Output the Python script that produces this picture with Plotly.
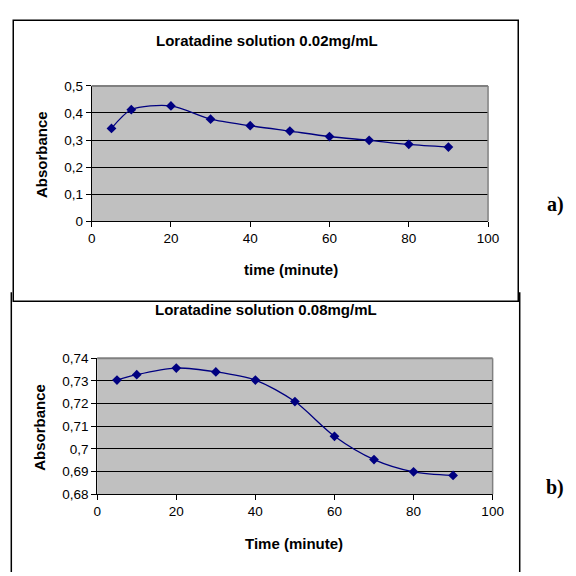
import plotly.graph_objects as go

# ---- data ----
time_a = [5, 10, 20, 30, 40, 50, 60, 70, 80, 90]
abs_a = [0.343, 0.412, 0.426, 0.377, 0.353, 0.333, 0.313, 0.299, 0.284, 0.274]

time_b = [5, 10, 20, 30, 40, 50, 60, 70, 80, 90]
abs_b = [0.7304, 0.7328, 0.7357, 0.7340, 0.7304, 0.7209, 0.7056, 0.6953, 0.6899, 0.6883]

x_ticks = [0, 20, 40, 60, 80, 100]
y_ticks_a = [0, 0.1, 0.2, 0.3, 0.4, 0.5]
y_ticklabels_a = ["0", "0,1", "0,2", "0,3", "0,4", "0,5"]
y_ticks_b = [0.68, 0.69, 0.70, 0.71, 0.72, 0.73, 0.74]
y_ticklabels_b = ["0,68", "0,69", "0,7", "0,71", "0,72", "0,73", "0,74"]

title_a = "Loratadine solution 0.02mg/mL"
title_b = "Loratadine solution 0.08mg/mL"
xtitle_a = "time (minute)"
xtitle_b = "Time (minute)"
ytitle = "Absorbance"

W = H = 576
FONT = "Liberation Sans, Arial, sans-serif"
NAVY = "#000080"


def px(x):
    return x / W


def py(y):
    return 1 - y / H


fig = go.Figure()
fig.add_trace(go.Scatter(
    x=time_a, y=abs_a, mode="lines+markers", xaxis="x", yaxis="y",
    line=dict(color=NAVY, width=1.3, shape="spline", smoothing=0.8),
    marker=dict(symbol="diamond", size=7.5, color=NAVY),
    showlegend=False))
fig.add_trace(go.Scatter(
    x=time_b, y=abs_b, mode="lines+markers", xaxis="x2", yaxis="y2",
    line=dict(color=NAVY, width=1.3, shape="spline", smoothing=0.8),
    marker=dict(symbol="diamond", size=7.5, color=NAVY),
    showlegend=False))

common_x = dict(range=[0, 100], tickvals=x_ticks, showgrid=False, zeroline=False,
                showline=True, linecolor="black", linewidth=1,
                ticks="outside", ticklen=5, tickcolor="black",
                tickfont=dict(family=FONT, size=13.5, color="black"), fixedrange=True)
common_y = dict(showgrid=True, gridcolor="black", gridwidth=1, zeroline=False,
                showline=True, linecolor="black", linewidth=1,
                ticks="outside", ticklen=5, tickcolor="black",
                tickfont=dict(family=FONT, size=13.5, color="black"), fixedrange=True)

# plot areas (pixels)
A = dict(l=90, r=497, t=81, b=220)
B = dict(l=95.7, r=501.7, t=360.7, b=500.3)

fig.update_layout(
    width=W, height=H, margin=dict(l=0, r=0, t=0, b=0),
    paper_bgcolor="white", plot_bgcolor="#C0C0C0",
    xaxis=dict(domain=[px(A["l"]), px(A["r"])], anchor="y", **common_x),
    yaxis=dict(domain=[py(A["b"]), py(A["t"])], anchor="x", range=[0, 0.5],
               tickvals=y_ticks_a, ticktext=y_ticklabels_a, **common_y),
    xaxis2=dict(domain=[px(B["l"]), px(B["r"])], anchor="y2", **common_x),
    yaxis2=dict(domain=[py(B["b"]), py(B["t"])], anchor="x2", range=[0.68, 0.74],
                tickvals=y_ticks_b, ticktext=y_ticklabels_b, **common_y),
)

shapes = []
# panel b frame (left & right edges)
shapes.append(dict(type="line", xref="paper", yref="paper", x0=px(7.5), x1=px(7.5),
                   y0=py(293), y1=py(580), line=dict(color="black", width=1.5), layer="below"))
shapes.append(dict(type="line", xref="paper", yref="paper", x0=px(529.5), x1=px(529.5),
                   y0=py(293), y1=py(580), line=dict(color="black", width=1.5), layer="below"))
# panel a frame
shapes.append(dict(type="rect", xref="paper", yref="paper", x0=px(9.5), x1=px(528),
                   y0=py(302), y1=py(13.5),
                   line=dict(color="black", width=1.5), layer="below"))
# grey top/right borders of the plot areas
for P in (A, B):
    shapes.append(dict(type="line", xref="paper", yref="paper", x0=px(P["l"]), x1=px(P["r"]),
                       y0=py(P["t"]), y1=py(P["t"]), line=dict(color="#808080", width=2), layer="above"))
    shapes.append(dict(type="line", xref="paper", yref="paper", x0=px(P["r"]), x1=px(P["r"]),
                       y0=py(P["t"]), y1=py(P["b"]), line=dict(color="#808080", width=1.5), layer="above"))
fig.update_layout(shapes=shapes)


def ann(text, x, y, size=15, angle=0, family=FONT):
    return dict(text=text, x=px(x), y=py(y), xref="paper", yref="paper",
                showarrow=False, xanchor="center", yanchor="middle", textangle=angle,
                font=dict(family=family, size=size, color="black"))


annotations = [
    ann("<b>" + title_a + "</b>", 270, 34),
    ann("<b>" + xtitle_a + "</b>", 295, 270),
    ann("<b>" + ytitle + "</b>", 38, 152, angle=-90),
    ann("<b>" + title_b + "</b>", 269, 311),
    ann("<b>" + xtitle_b + "</b>", 298, 551),
    ann("<b>" + ytitle + "</b>", 37, 432, angle=-90),
    ann("<b>a)</b>", 566, 203, size=20, family="Liberation Serif, Times New Roman, serif"),
    ann("<b>b)</b>", 566, 493, size=20, family="Liberation Serif, Times New Roman, serif"),
]
fig.update_layout(annotations=annotations)

fig.write_html("out.html")
